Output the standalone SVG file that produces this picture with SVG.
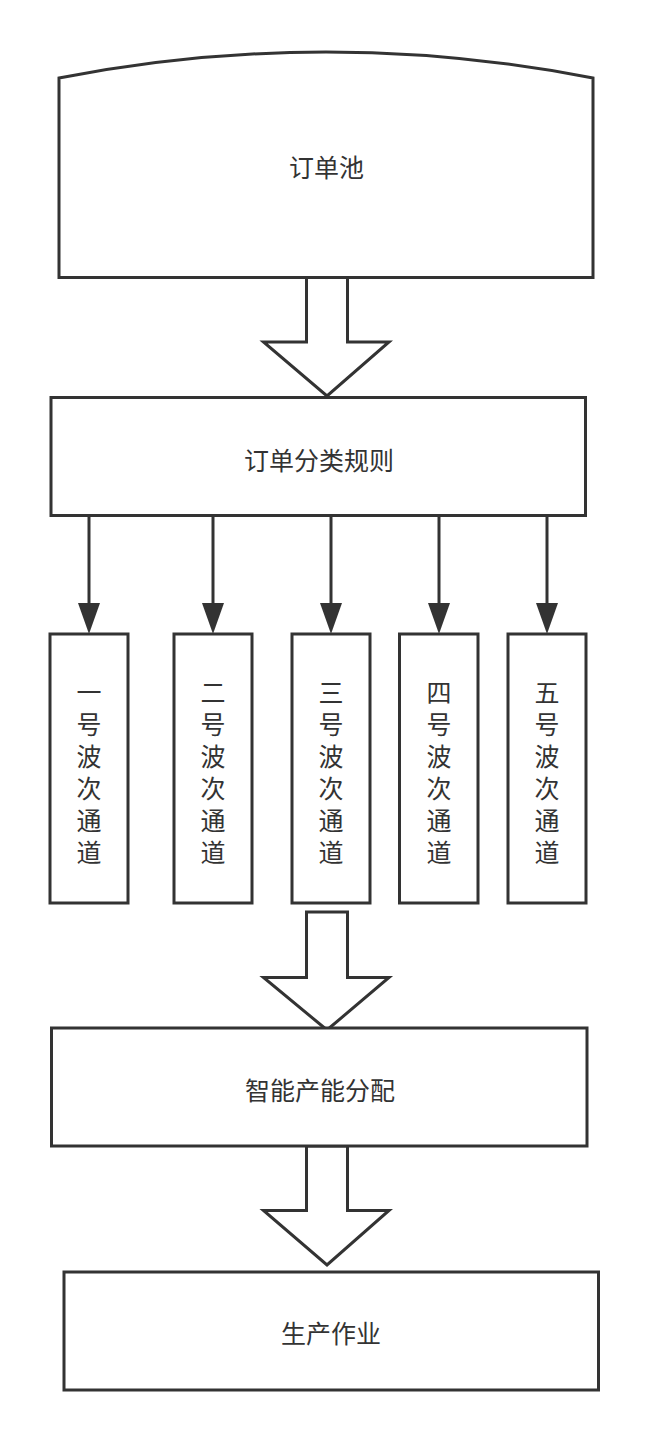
<svg xmlns="http://www.w3.org/2000/svg" width="648" height="1440" viewBox="0 0 648 1440">
<defs>
<style>
.s{fill:#fff;stroke:#333;stroke-width:3;stroke-linejoin:miter}
.t{font-family:"Noto Sans CJK SC","Noto Sans",sans-serif;font-size:25px;fill:#333;text-anchor:middle}
.v{font-family:"Noto Sans CJK SC","Noto Sans",sans-serif;font-size:25px;fill:#333;writing-mode:vertical-rl;text-orientation:upright;letter-spacing:7px}
.c{stroke:#333;stroke-width:3;fill:none}
.h{fill:#333;stroke:none}
</style>
</defs>
<rect width="648" height="1440" fill="#fff"/>
<g id="connectors">
<polygon class="s" points="306.5,277.5 306.5,342 263.5,342 327,396 389,342 347.5,342 347.5,277.5"/>
<line class="c" x1="89" y1="515" x2="89" y2="604"/>
<polygon class="h" points="78,603 100,603 89,634"/>
<line class="c" x1="213" y1="512.5" x2="213" y2="604"/>
<polygon class="h" points="202,603 224,603 213,634"/>
<line class="c" x1="331" y1="515" x2="331" y2="604"/>
<polygon class="h" points="320,603 342,603 331,634"/>
<line class="c" x1="439" y1="511" x2="439" y2="604"/>
<polygon class="h" points="428,603 450,603 439,634"/>
<line class="c" x1="547" y1="512" x2="547" y2="604"/>
<polygon class="h" points="536,603 558,603 547,634"/>
<polygon class="s" points="306.5,912 306.5,977.5 263.5,977.5 327,1030 389,977.5 347.5,977.5 347.5,912"/>
<polygon class="s" points="306.5,1146 306.5,1210.5 263.5,1210.5 327,1265 389,1210.5 347.5,1210.5 347.5,1146"/>
</g>
<g id="order-pool">
<path class="s" d="M59,277.5 L59,78 Q326,26 593,78 L593,277.5 Z"/>
<text class="t" x="326.5" y="177">订单池</text>
</g>
<g id="classify">
<rect class="s" x="51" y="397.5" width="534.5" height="118"/>
<text class="t" x="319" y="469.5">订单分类规则</text>
</g>
<g id="ch1">
<rect class="s" x="50" y="634" width="78" height="269"/>
<text class="v" x="89" y="679.5">一号波次通道</text>
</g>
<g id="ch2">
<rect class="s" x="174" y="634" width="78" height="269"/>
<text class="v" x="213" y="679.5">二号波次通道</text>
</g>
<g id="ch3">
<rect class="s" x="292" y="634" width="78" height="269"/>
<text class="v" x="331" y="679.5">三号波次通道</text>
</g>
<g id="ch4">
<rect class="s" x="399.5" y="634" width="78.5" height="269"/>
<text class="v" x="439" y="679.5">四号波次通道</text>
</g>
<g id="ch5">
<rect class="s" x="508" y="634" width="78" height="269"/>
<text class="v" x="547" y="679.5">五号波次通道</text>
</g>
<g id="capacity">
<rect class="s" x="51.5" y="1028" width="535.5" height="118"/>
<text class="t" x="320" y="1099.5">智能产能分配</text>
</g>
<g id="production">
<rect class="s" x="64" y="1272" width="534.5" height="118"/>
<text class="t" x="331" y="1342.5">生产作业</text>
</g>
</svg>
